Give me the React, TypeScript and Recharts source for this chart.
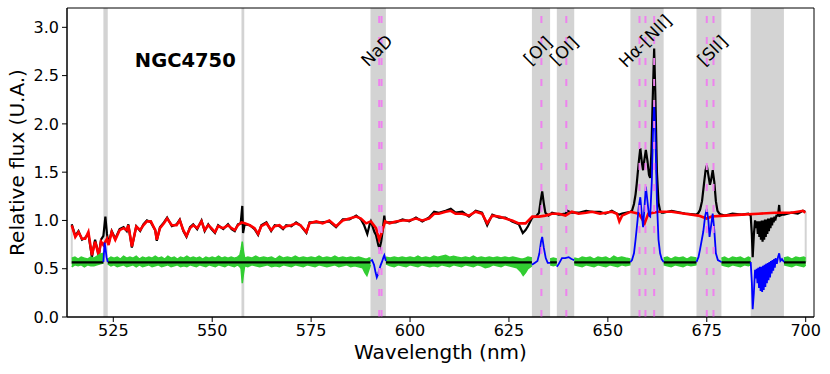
import React from 'react';
import {
  ComposedChart,
  Line,
  Area,
  XAxis,
  YAxis,
  ReferenceArea,
  ReferenceLine,
  ReferenceDot,
} from 'recharts';

const FONT = '"DejaVu Sans", "Liberation Sans", sans-serif';

const xDomain: [number, number] = [513.3, 702.1];
const yDomain: [number, number] = [0, 3.2];
const xTicks = [525, 550, 575, 600, 625, 650, 675, 700];
const yTicks = [0, 0.5, 1, 1.5, 2, 2.5, 3];

// masked (grey) wavelength windows, nm
const maskBands: [number, number][] = [
  [522.5, 523.6], [557.4, 558.1], [590.0, 593.9], [630.8, 635.4],
  [637.1, 641.5], [655.7, 664.1], [672.4, 678.7], [686.1, 694.5],
];

// emission / absorption line positions (dashed violet), nm
const lineMarks = [592.2, 592.8, 633.2, 639.5, 658.0, 659.5, 661.7, 675.0, 676.7];

// rotated line labels: [text, wavelength, flux]
const lineLabels: [string, number, number][] = [
  ['NaD', 591.6, 2.76],
  ['[OI]', 632.3, 2.76],
  ['[OI]', 638.9, 2.76],
  ['Hα-[NII]', 659.4, 2.86],
  ['[SII]', 676.4, 2.76],
];

const galaxyName = 'NGC4750';
const galaxyPos: [number, number] = [543.2, 2.59];

// observed spectrum (black)
const observed: [number, number][] = [
  [514.5,0.96],[515.4,0.84],[516.2,0.89],[517.1,0.80],[517.9,0.82],[518.7,0.86],[519.3,0.70],[519.6,0.62],[520.0,0.72],[520.4,0.80],
  [521.0,0.70],[521.3,0.62],[521.9,0.80],[522.5,0.84],[523.0,1.04],[523.4,0.86],[523.8,0.76],[524.6,0.89],[525.5,0.81],[526.6,0.91],
  [527.6,0.93],[528.4,0.89],[528.8,0.96],[529.7,0.72],[530.8,0.94],[531.8,0.89],[532.6,0.96],[533.5,1.00],[534.5,0.98],[535.6,0.90],
  [536.0,0.79],[536.8,0.93],[537.8,0.98],[538.6,1.03],[539.8,0.94],[541.0,0.96],[541.8,1.01],[542.7,0.89],[543.5,0.83],[544.4,0.93],
  [545.2,0.96],[546.2,0.91],[547.3,1.00],[548.1,0.89],[549.0,0.96],[549.8,0.91],[550.7,0.87],[551.5,0.95],[552.8,0.91],[554.0,0.96],
  [554.9,0.91],[555.7,0.89],[556.5,0.96],[557.2,0.97],[557.6,1.15],[557.8,0.87],[558.2,0.96],[559.5,0.95],[560.7,0.91],[561.6,0.85],
  [562.4,0.95],[563.7,0.98],[564.9,0.89],[565.8,0.95],[567.0,0.94],[567.9,0.91],[568.7,0.95],[570.0,0.94],[571.2,0.98],[572.3,0.95],
  [573.8,0.87],[574.6,0.98],[576.3,0.98],[577.9,0.98],[579.6,0.99],[581.3,0.93],[583.0,1.01],[584.7,1.01],[586.4,1.05],[587.6,1.01],
  [588.4,0.95],[589.2,0.86],[589.8,0.96],[590.1,0.99],[591.0,0.88],[591.4,0.85],[592.0,0.74],[592.3,0.71],[592.7,0.78],[593.1,0.90],
  [593.5,1.05],[593.7,0.98],[594.8,0.98],[596.4,0.98],[598.1,1.01],[599.8,0.99],[601.5,1.03],[603.1,0.99],[604.8,1.03],[606.1,1.09],
  [607.3,1.08],[609.0,1.10],[610.3,1.12],[611.5,1.08],[613.2,1.09],[614.9,1.04],[616.6,1.10],[618.2,1.08],[619.5,0.95],[620.8,1.06],
  [622.5,1.03],[624.1,1.03],[625.8,0.99],[627.5,0.96],[628.5,0.87],[629.2,0.90],[629.8,0.94],[630.9,1.03],[631.8,1.04],[632.6,1.08],
  [633.0,1.20],[633.4,1.30],[633.8,1.18],[634.2,1.08],[635.0,1.05],[635.9,1.08],[637.6,1.06],[639.3,1.07],[639.8,1.10],[640.9,1.08],
  [642.6,1.08],[644.5,1.10],[646.0,1.09],[648.0,1.09],[649.4,1.07],[651.0,1.10],[652.3,1.07],[652.9,1.06],[653.6,1.07],[655.7,1.09],
  [656.1,1.10],[656.6,1.17],[657.0,1.27],[657.3,1.38],[657.8,1.60],[658.2,1.75],[658.6,1.60],[658.9,1.52],[659.2,1.62],[659.6,1.73],
  [660.0,1.62],[660.4,1.47],[660.7,1.44],[661.0,1.70],[661.3,2.20],[661.7,2.78],[662.0,2.30],[662.4,1.50],[662.8,1.18],[663.2,1.10],
  [663.6,1.08],[664.1,1.08],[666.1,1.10],[669.5,1.07],[672.4,1.06],[672.9,1.08],[673.3,1.11],[673.8,1.20],[674.3,1.38],[674.7,1.52],
  [675.0,1.57],[675.4,1.47],[675.8,1.37],[676.1,1.42],[676.5,1.52],[676.9,1.40],[677.3,1.20],[677.7,1.10],[678.2,1.07],[678.7,1.06],
  [679.6,1.05],[681.5,1.07],[683.8,1.06],[685.5,1.07],[686.1,1.05],[686.4,0.85],[686.6,0.62],[686.9,0.85],[687.2,1.00],[687.5,0.92],
  [687.7,0.99],[687.9,0.86],[688.1,0.99],[688.3,0.83],[688.5,0.99],[688.7,0.80],[688.9,1.00],[689.1,0.78],[689.3,1.00],[689.5,0.80],
  [689.7,1.01],[689.9,0.83],[690.1,1.01],[690.3,0.86],[690.5,1.02],[690.7,0.89],[690.9,1.02],[691.1,0.92],[691.3,1.03],[691.5,0.95],
  [691.7,1.03],[691.9,0.98],[692.1,1.04],[692.3,1.00],[692.6,1.05],[693.0,1.05],[693.3,1.16],[693.5,1.05],[694.0,1.06],[694.5,1.06],
  [696.4,1.08],[698.0,1.07],[699.3,1.10],[699.9,1.09],
];

// stellar model (red)
const model: [number, number][] = [
  [514.5,0.95],[515.4,0.83],[516.2,0.88],[517.1,0.81],[517.9,0.81],[518.7,0.88],[519.6,0.64],[520.4,0.78],[521.3,0.64],[521.9,0.78],
  [522.5,0.745],[523.4,0.81],[523.8,0.745],[524.6,0.88],[525.5,0.80],[526.6,0.90],[527.6,0.92],[528.4,0.90],[528.8,0.95],[529.7,0.73],
  [530.8,0.935],[531.8,0.90],[532.6,0.95],[533.5,0.99],[534.5,0.99],[535.6,0.90],[536.0,0.80],[536.8,0.92],[537.8,0.97],[538.6,1.02],
  [539.8,0.95],[541.0,0.95],[541.8,1.00],[542.7,0.90],[543.5,0.84],[544.4,0.92],[545.2,0.95],[546.2,0.92],[547.3,0.99],[548.1,0.90],
  [549.0,0.95],[549.8,0.92],[550.7,0.88],[551.5,0.94],[552.8,0.92],[554.0,0.95],[554.9,0.92],[555.7,0.90],[556.5,0.95],[557.4,0.98],
  [558.2,0.97],[559.5,0.95],[560.7,0.92],[561.6,0.86],[562.4,0.94],[563.7,0.97],[564.9,0.90],[565.8,0.94],[567.0,0.95],[567.9,0.92],
  [568.7,0.94],[570.0,0.95],[571.2,0.97],[572.3,0.95],[573.8,0.88],[574.6,0.97],[576.3,0.99],[577.9,0.97],[579.6,1.00],[581.3,0.94],
  [583.0,1.00],[584.7,1.02],[586.4,1.04],[587.6,1.02],[588.9,0.97],[590.1,0.99],[591.4,0.92],[592.2,0.80],[592.9,0.88],[593.7,0.99],
  [594.8,0.97],[596.4,0.99],[598.1,1.00],[599.8,1.00],[601.5,1.02],[603.1,1.00],[604.8,1.02],[606.1,1.07],[607.3,1.07],[609.0,1.09],
  [610.3,1.10],[611.5,1.07],[613.2,1.07],[614.9,1.05],[616.6,1.09],[618.2,1.07],[619.5,0.97],[620.8,1.05],[622.5,1.04],[624.1,1.02],
  [625.8,1.00],[627.5,0.97],[629.2,0.97],[630.9,1.04],[632.6,1.04],[634.2,1.05],[635.9,1.07],[637.6,1.07],[639.3,1.05],[640.9,1.09],
  [642.6,1.07],[644.5,1.08],[646.0,1.09],[648.0,1.07],[649.4,1.08],[651.0,1.09],[652.3,1.07],[652.9,0.99],[653.6,1.05],[655.7,1.09],
  [657.8,1.07],[659.3,0.97],[660.2,1.07],[662.8,1.09],[666.1,1.09],[669.5,1.07],[672.9,1.05],[675.0,1.02],[676.2,1.04],[679.6,1.05],
  [683.8,1.06],[688.0,1.07],[692.2,1.08],[696.4,1.08],[699.3,1.10],[699.9,1.08],
];

// residual band (green): [wavelength, low, high] per continuum segment
const residualSegments: [number, number, number][][] = [
  [[514.5,.52,.61],[515.3,.54,.62],[516.1,.53,.60],[516.9,.54,.62],[517.7,.52,.61],[518.5,.54,.60],[519.3,.53,.62],[520.1,.53,.61],
   [520.9,.54,.63],[521.7,.55,.65],[522.5,.56,.66]],
  [[523.6,.55,.60],[524.4,.53,.62],[525.2,.54,.61],[526.0,.52,.62],[526.8,.53,.60],[527.6,.54,.63],[528.4,.52,.61],[529.2,.53,.62],
   [530.0,.54,.61],[530.8,.52,.63],[531.6,.54,.60],[532.4,.52,.62],[533.2,.53,.61],[534.0,.54,.62],[534.8,.52,.61],[535.6,.53,.63],
   [536.4,.54,.61],[537.2,.52,.62],[538.0,.53,.60],[538.8,.54,.63],[539.6,.52,.61],[540.4,.53,.62],[541.2,.54,.60],[542.0,.52,.62],
   [542.8,.53,.61],[543.6,.52,.63],[544.4,.54,.61],[545.2,.53,.62],[546.0,.52,.61],[546.8,.54,.62],[547.6,.53,.60],[548.4,.52,.62],
   [549.2,.54,.61],[550.0,.53,.62],[550.8,.52,.61],[551.6,.54,.63],[552.4,.53,.61],[553.2,.52,.62],[554.0,.54,.61],[554.8,.53,.62],
   [555.6,.52,.61],[556.4,.54,.62],[557.0,.52,.64],[557.3,.50,.70],[557.6,.35,.78],[557.9,.45,.68],[558.2,.53,.61],[559.0,.52,.62],
   [560.0,.54,.61],[561.0,.53,.63],[562.0,.52,.61],[563.0,.53,.62],[564.0,.54,.61],[565.0,.52,.62],[566.0,.53,.60],[567.0,.52,.63],
   [568.0,.54,.61],[569.0,.53,.62],[570.0,.52,.61],[571.0,.54,.63],[572.0,.53,.61],[573.0,.52,.62],[574.0,.54,.61],[575.0,.53,.62],
   [576.0,.52,.61],[577.0,.54,.63],[578.0,.53,.61],[579.0,.52,.62],[580.0,.53,.61],[581.0,.54,.63],[582.0,.52,.61],[583.0,.53,.62],
   [584.0,.54,.61],[585.0,.52,.62],[586.0,.53,.61],[587.0,.52,.62],[588.0,.51,.61],[588.6,.46,.60],[589.1,.43,.60],[589.6,.49,.61],
   [590.0,.54,.61]],
  [[593.9,.55,.62],[595.0,.53,.61],[596.0,.52,.62],[597.0,.54,.61],[598.0,.53,.62],[599.0,.52,.61],[600.0,.54,.62],[601.0,.53,.61],
   [602.0,.52,.63],[603.0,.54,.61],[604.0,.53,.62],[605.0,.52,.61],[606.0,.53,.63],[607.0,.52,.62],[608.0,.54,.63],[609.0,.53,.64],
   [610.0,.52,.62],[611.0,.54,.63],[612.0,.53,.62],[613.0,.52,.61],[614.0,.54,.62],[615.0,.53,.61],[616.0,.52,.63],[617.0,.54,.61],
   [618.0,.53,.62],[619.0,.51,.61],[620.0,.52,.62],[621.0,.54,.61],[622.0,.53,.62],[623.0,.52,.61],[624.0,.54,.62],[625.0,.53,.61],
   [626.0,.52,.62],[627.0,.51,.61],[628.0,.47,.60],[628.6,.43,.60],[629.2,.46,.61],[629.8,.50,.62],[630.8,.53,.61]],
  [[635.4,.54,.60],[636.2,.53,.61],[637.1,.54,.60]],
  [[641.5,.54,.61],[642.5,.53,.60],[643.5,.52,.62],[644.5,.54,.61],[645.5,.53,.62],[646.5,.52,.60],[647.5,.54,.62],[648.5,.53,.61],
   [649.5,.52,.62],[650.5,.54,.60],[651.5,.53,.63],[652.5,.52,.61],[653.5,.54,.62],[654.5,.53,.61],[655.7,.54,.60]],
  [[664.1,.54,.61],[665.0,.53,.62],[666.0,.52,.60],[667.0,.54,.62],[668.0,.53,.61],[669.0,.52,.62],[670.0,.54,.60],[671.0,.53,.62],
   [672.4,.54,.61]],
  [[678.7,.54,.61],[679.5,.53,.62],[680.5,.52,.60],[681.5,.54,.62],[682.5,.53,.61],[683.5,.52,.62],[684.5,.54,.60],[685.5,.53,.62],
   [686.1,.54,.61]],
  [[694.5,.54,.61],[695.5,.53,.62],[696.5,.52,.60],[697.5,.54,.62],[698.5,.53,.61],[699.5,.52,.62],[700.0,.54,.61]],
];

// zero level of the residual (black flat line), value and its spans
const zeroLevel = 0.566;
const zeroSpans: [number, number][] = [
  [514.5, 522.5], [523.6, 590.0], [593.9, 630.8], [635.4, 637.1],
  [641.5, 655.7], [664.1, 672.4], [678.7, 686.1], [694.5, 700.0],
];

// residual inside masked windows (blue)
const maskedResidual: [number, number][][] = [
  [[522.5,0.57],[522.8,0.77],[523.0,0.72],[523.3,0.62],[523.6,0.57]],
  [[590.0,0.58],[590.4,0.59],[590.9,0.54],[591.3,0.46],[591.6,0.41],[592.0,0.45],[592.2,0.49],[592.6,0.54],[592.9,0.57],[593.3,0.62],
   [593.5,0.64],[593.9,0.58]],
  [[630.8,0.54],[631.5,0.56],[632.2,0.58],[632.7,0.66],[633.1,0.78],[633.4,0.83],[633.8,0.72],[634.3,0.61],[634.8,0.56],[635.4,0.56]],
  [[637.1,0.52],[637.6,0.55],[638.4,0.61],[639.2,0.61],[640.1,0.62],[640.8,0.60],[641.5,0.59]],
  [[655.7,0.57],[656.1,0.59],[656.6,0.66],[657.0,0.80],[657.5,1.00],[657.8,1.14],[658.2,1.24],[658.5,1.10],[658.9,0.93],[659.2,1.10],
   [659.6,1.35],[660.0,1.20],[660.4,1.05],[660.7,1.04],[661.1,1.40],[661.4,1.90],[661.7,2.23],[662.0,1.90],[662.4,1.20],[662.8,0.80],
   [663.2,0.66],[663.6,0.60],[664.1,0.57]],
  [[672.4,0.57],[672.9,0.62],[673.3,0.70],[674.1,0.88],[674.6,1.05],[675.0,1.12],[675.4,1.00],[675.7,0.83],[676.1,0.95],[676.5,1.07],
   [676.9,0.90],[677.3,0.66],[677.8,0.59],[678.7,0.57]],
  [[686.1,0.57],[686.4,0.35],[686.6,0.08],[686.9,0.25],[687.2,0.49],[687.4,0.40],[687.6,0.50],[687.8,0.35],[688.0,0.51],[688.2,0.30],
   [688.4,0.52],[688.6,0.27],[688.8,0.52],[689.0,0.26],[689.2,0.53],[689.4,0.28],[689.6,0.54],[689.8,0.31],[690.0,0.55],[690.2,0.35],
   [690.4,0.56],[690.6,0.38],[690.8,0.57],[691.0,0.41],[691.2,0.58],[691.4,0.45],[691.6,0.59],[691.8,0.48],[692.0,0.60],[692.2,0.51],
   [692.4,0.61],[692.7,0.55],[693.0,0.62],[693.3,0.66],[693.6,0.58],[694.0,0.60],[694.5,0.57]],
];

// faint grey edges at the ends of the spectrum: [wavelength, low, high]
const edgeMarks: [number, number, number][] = [
  [514.5, 0.55, 0.95],
  [700.0, 0.57, 1.09],
];

type Row = { x: number; y: number | null | [number, number] };

function joinSegments(segs: Row[][]): Row[] {
  const out: Row[] = [];
  segs.forEach((s, i) => {
    if (i > 0) {
      const prev = segs[i - 1][segs[i - 1].length - 1].x;
      out.push({ x: (prev + s[0].x) / 2, y: null });
    }
    out.push(...s);
  });
  return out;
}

const observedData: Row[] = observed.map(([x, y]) => ({ x, y }));
const modelData: Row[] = model.map(([x, y]) => ({ x, y }));
const residualData: Row[] = joinSegments(
  residualSegments.map((seg) => seg.map(([x, lo, hi]) => ({ x, y: [lo, hi] as [number, number] })))
);
const zeroData: Row[] = joinSegments(
  zeroSpans.map(([a, b]) => [{ x: a, y: zeroLevel }, { x: b, y: zeroLevel }])
);
const maskedData: Row[] = joinSegments(
  maskedResidual.map((seg) => seg.map(([x, y]) => ({ x, y })))
);

const tickStyle = { fontSize: 16, fill: '#000', fontFamily: FONT };

export default function App() {
  return (
    <div style={{ position: 'absolute', left: 0, top: 0, width: 830, height: 374, background: '#fff' }}>
      <ComposedChart
        width={830}
        height={374}
        margin={{ top: 8, right: 16, bottom: 0, left: 0 }}
      >
        <XAxis
          type="number"
          dataKey="x"
          domain={xDomain}
          allowDataOverflow
          ticks={xTicks}
          tick={tickStyle}
          tickSize={5}
          tickMargin={3}
          height={57}
          stroke="#000"
          axisLine={{ stroke: '#000', strokeWidth: 1 }}
          tickLine={{ stroke: '#000', strokeWidth: 1 }}
          label={{
            value: 'Wavelength (nm)',
            position: 'insideBottom',
            offset: 15,
            style: { fontSize: 20, fill: '#000', fontFamily: FONT },
          }}
        />
        <YAxis
          type="number"
          domain={yDomain}
          allowDataOverflow
          ticks={yTicks}
          tick={tickStyle}
          tickFormatter={(v: number) => v.toFixed(1)}
          tickSize={5}
          tickMargin={3}
          width={67}
          stroke="#000"
          axisLine={{ stroke: '#000', strokeWidth: 1 }}
          tickLine={{ stroke: '#000', strokeWidth: 1 }}
          label={{
            value: 'Relative flux (U.A.)',
            angle: -90,
            position: 'insideLeft',
            offset: 17,
            style: { fontSize: 20, fill: '#000', fontFamily: FONT, textAnchor: 'middle' },
          }}
        />

        {maskBands.map(([a, b], i) => (
          <ReferenceArea
            key={`band-${i}`}
            x1={a}
            x2={b}
            y1={yDomain[0]}
            y2={yDomain[1]}
            fill="#d3d3d3"
            fillOpacity={1}
            stroke="none"
            ifOverflow="hidden"
            zIndex={-50}
          />
        ))}

        {edgeMarks.map(([x, lo, hi], i) => (
          <ReferenceLine
            key={`edge-${i}`}
            segment={[{ x, y: lo }, { x, y: hi }]}
            stroke="#d3d3d3"
            strokeWidth={2}
            zIndex={-40}
          />
        ))}

        <Line
          data={observedData}
          dataKey="y"
          type="linear"
          stroke="#000"
          strokeWidth={2.2}
          dot={false}
          activeDot={false}
          isAnimationActive={false}
          connectNulls={false}
        />
        <Line
          data={modelData}
          dataKey="y"
          type="linear"
          stroke="#ff0000"
          strokeWidth={2.6}
          dot={false}
          activeDot={false}
          isAnimationActive={false}
        />
        <Area
          data={residualData}
          dataKey="y"
          type="linear"
          stroke="#32cd32"
          strokeWidth={1.5}
          fill="#32cd32"
          fillOpacity={1}
          dot={false}
          activeDot={false}
          isAnimationActive={false}
          connectNulls={false}
          zIndex={410}
        />
        <Line
          data={zeroData}
          dataKey="y"
          type="linear"
          stroke="#000"
          strokeWidth={2.2}
          dot={false}
          activeDot={false}
          isAnimationActive={false}
          connectNulls={false}
          zIndex={420}
        />
        <Line
          data={maskedData}
          dataKey="y"
          type="linear"
          stroke="#0000ff"
          strokeWidth={1.8}
          dot={false}
          activeDot={false}
          isAnimationActive={false}
          connectNulls={false}
          zIndex={430}
        />

        {lineMarks.map((x, i) => (
          <ReferenceLine
            key={`mark-${i}`}
            x={x}
            stroke="#ee82ee"
            strokeWidth={2}
            strokeDasharray="7 14"
            ifOverflow="hidden"
            zIndex={1500}
          />
        ))}

        <ReferenceArea
          x1={xDomain[0]}
          x2={xDomain[1]}
          y1={yDomain[0]}
          y2={yDomain[1]}
          fill="none"
          stroke="#000"
          strokeWidth={1}
          zIndex={1600}
        />

        {lineLabels.map(([text, x, y], i) => (
          <ReferenceDot
            key={`lab-${i}`}
            x={x}
            y={y}
            r={0}
            zIndex={2000}
            shape={(p: any) => (
              <text
                x={p.cx}
                y={p.cy}
                transform={`rotate(-45 ${p.cx} ${p.cy})`}
                textAnchor="middle"
                dominantBaseline="central"
                fontSize={17}
                fontFamily={FONT}
                fill="#000"
              >
                {text}
              </text>
            )}
          />
        ))}

        <ReferenceDot
          x={galaxyPos[0]}
          y={galaxyPos[1]}
          r={0}
          zIndex={2000}
          shape={(p: any) => (
            <text
              x={p.cx}
              y={p.cy}
              textAnchor="middle"
              fontSize={19.5}
              fontWeight="bold"
              fontFamily={FONT}
              fill="#000"
            >
              {galaxyName}
            </text>
          )}
        />
      </ComposedChart>
    </div>
  );
}
